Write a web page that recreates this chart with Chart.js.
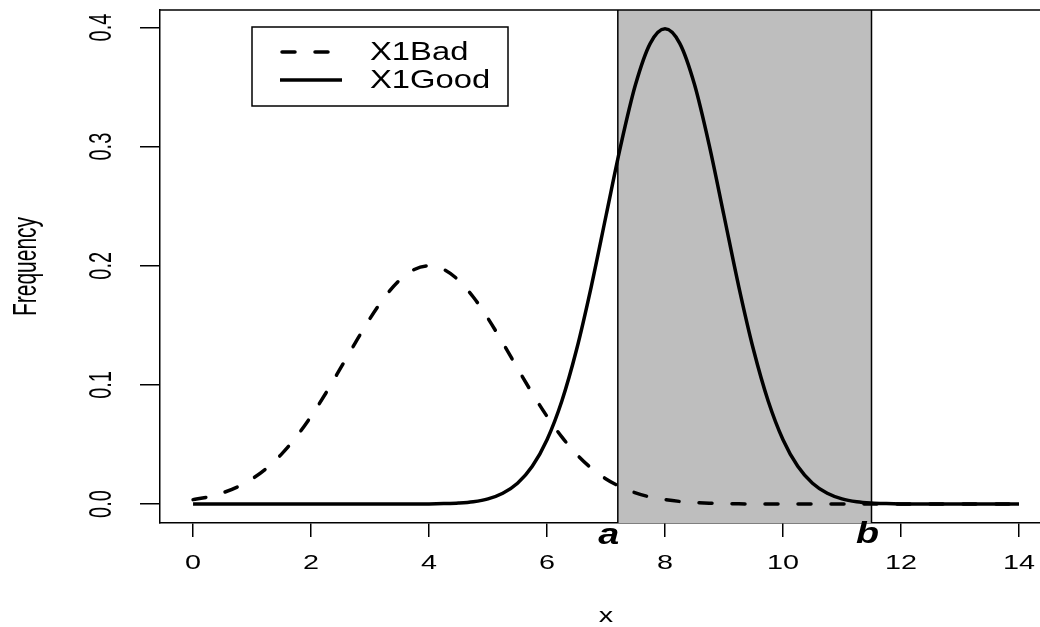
<!DOCTYPE html>
<html>
<head>
<meta charset="utf-8">
<script src="https://cdn.jsdelivr.net/npm/chart.js@4.4.1/dist/chart.umd.min.js"></script>
<style>
  html, body { margin: 0; padding: 0; background: #fff; overflow: hidden; }
  canvas { display: block; }
</style>
</head>
<body>
<canvas id="densityChart" width="1040" height="627"></canvas>
<script>
const xValues = [
    0, 0.25, 0.5, 0.75, 1, 1.25, 1.5, 1.75, 2, 2.25, 2.5, 2.75, 3, 3.25, 3.5, 3.75,
    4, 4.25, 4.5, 4.75, 5, 5.25, 5.5, 5.75, 6, 6.25, 6.5, 6.75, 7, 7.25, 7.5, 7.75,
    8, 8.25, 8.5, 8.75, 9, 9.25, 9.5, 9.75, 10, 10.25, 10.5, 10.75, 11, 11.25, 11.5, 11.75,
    12, 12.25, 12.5, 12.75, 13, 13.25, 13.5, 13.75, 14
];

const x1Bad = [
    0.0037, 0.0059, 0.0094, 0.0143, 0.0211, 0.0302, 0.0419, 0.0564, 0.0736, 0.0930, 0.1140, 0.1353, 0.1558, 0.1738, 0.1879, 0.1969,
    0.2000, 0.1969, 0.1879, 0.1738, 0.1558, 0.1353, 0.1140, 0.0930, 0.0736, 0.0564, 0.0419, 0.0302, 0.0211, 0.0143, 0.0094, 0.0059,
    0.0037, 0.0022, 0.0013, 0.0007, 0.0004, 0.0002, 0.0001, 0.0001, 0, 0, 0, 0, 0, 0, 0, 0,
    0, 0, 0, 0, 0, 0, 0, 0, 0
];

const x1Good = [
    0, 0, 0, 0, 0, 0, 0, 0, 0, 0, 0, 0, 0, 0, 0, 0,
    0.0001, 0.0004, 0.0009, 0.0020, 0.0044, 0.0091, 0.0175, 0.0317, 0.0540, 0.0863, 0.1295, 0.1826, 0.2420, 0.3011, 0.3521, 0.3867,
    0.3989, 0.3867, 0.3521, 0.3011, 0.2420, 0.1826, 0.1295, 0.0863, 0.0540, 0.0317, 0.0175, 0.0091, 0.0044, 0.0020, 0.0009, 0.0004,
    0.0001, 0, 0, 0, 0, 0, 0, 0, 0
];

const xTicks = [0, 2, 4, 6, 8, 10, 12, 14];
const yTicks = [0.0, 0.1, 0.2, 0.3, 0.4];
const yTickLabels = ["0.0", "0.1", "0.2", "0.3", "0.4"];

// the shaded interval between a and b
const aValue = 7.2;
const bValue = 11.5;

const seriesNames = ["X1Bad", "X1Good"];

const FONT = '"Liberation Sans", Arial, Helvetica, sans-serif';
const DASH = [13, 20];

// text that looks a bit stretched, like the original picture
function stretchedText(ctx, text, x, y, size, sx, sy, rotate, weight) {
    ctx.save();
    ctx.translate(x, y);
    if (rotate) ctx.rotate(-Math.PI / 2);
    ctx.scale(sx, sy);
    ctx.font = (weight || "") + " " + size + "px " + FONT;
    ctx.fillStyle = "#000";
    ctx.textAlign = "center";
    ctx.textBaseline = "middle";
    ctx.fillText(text, 0, 0);
    ctx.restore();
}

const intervalPlugin = {
    id: "interval",
    beforeDatasetsDraw(chart) {
        const ctx = chart.ctx;
        const area = chart.chartArea;
        const xs = chart.scales.x;
        const pa = xs.getPixelForValue(aValue);
        const pb = xs.getPixelForValue(bValue);
        ctx.save();
        ctx.fillStyle = "#bebebe";
        ctx.fillRect(pa, area.top, pb - pa, area.bottom - area.top);
        ctx.strokeStyle = "#000";
        ctx.lineWidth = 1.5;
        ctx.beginPath();
        ctx.moveTo(pa, area.top);
        ctx.lineTo(pa, area.bottom);
        ctx.moveTo(pb, area.top);
        ctx.lineTo(pb, area.bottom);
        ctx.stroke();
        ctx.restore();
    }
};

const decorPlugin = {
    id: "decor",
    afterDraw(chart) {
        const ctx = chart.ctx;
        const area = chart.chartArea;
        const xs = chart.scales.x;
        const ys = chart.scales.y;

        // top side of the box
        ctx.save();
        ctx.strokeStyle = "#000";
        ctx.lineWidth = 1.5;
        ctx.beginPath();
        ctx.moveTo(area.left, area.top);
        ctx.lineTo(area.right, area.top);
        ctx.stroke();
        ctx.restore();

        // tick labels
        for (const v of xTicks) {
            stretchedText(ctx, String(v), xs.getPixelForValue(v), 563, 21, 1.37, 1);
        }
        yTicks.forEach((v, i) => {
            stretchedText(ctx, yTickLabels[i], 102, ys.getPixelForValue(v), 20, 1, 1.6, true);
        });

        // axis titles
        stretchedText(ctx, "x", (area.left + 1052) / 2, 616, 21, 1.37, 1);
        stretchedText(ctx, "Frequency", 27, (area.top + area.bottom) / 2, 21, 1, 1.6, true);

        // a and b under the axis
        stretchedText(ctx, "a", xs.getPixelForValue(aValue) - 9, 536, 29, 1.3, 1, false, "italic bold");
        stretchedText(ctx, "b", xs.getPixelForValue(bValue) - 4, 535, 29, 1.3, 1, false, "italic bold");

        // legend box
        ctx.save();
        ctx.strokeStyle = "#000";
        ctx.lineWidth = 1.5;
        ctx.strokeRect(252, 27, 256, 79);
        ctx.lineWidth = 3.5;
        ctx.lineCap = "round";
        ctx.setLineDash(DASH);
        ctx.beginPath();
        ctx.moveTo(282, 52);
        ctx.lineTo(342, 52);
        ctx.stroke();
        ctx.setLineDash([]);
        ctx.lineCap = "butt";
        ctx.beginPath();
        ctx.moveTo(280, 80);
        ctx.lineTo(342, 80);
        ctx.stroke();
        ctx.restore();

        ctx.save();
        ctx.translate(370, 0);
        ctx.scale(1.26, 1);
        ctx.font = "26px " + FONT;
        ctx.fillStyle = "#000";
        ctx.textAlign = "left";
        ctx.textBaseline = "middle";
        ctx.fillText(seriesNames[0], 0, 53);
        ctx.fillText(seriesNames[1], 0, 81);
        ctx.restore();
    }
};

const data = {
    datasets: [
        {
            label: seriesNames[0],
            data: xValues.map((x, i) => ({ x: x, y: x1Bad[i] })),
            borderColor: "#000",
            borderWidth: 3.5,
            borderDash: DASH,
            borderCapStyle: "round",
            pointRadius: 0,
            fill: false,
            cubicInterpolationMode: "monotone"
        },
        {
            label: seriesNames[1],
            data: xValues.map((x, i) => ({ x: x, y: x1Good[i] })),
            borderColor: "#000",
            borderWidth: 3.5,
            borderJoinStyle: "round",
            pointRadius: 0,
            fill: false,
            cubicInterpolationMode: "monotone"
        }
    ]
};

const config = {
    type: "line",
    data: data,
    options: {
        responsive: false,
        animation: false,
        layout: { padding: { top: 10, left: 0, right: 0, bottom: 0 } },
        plugins: {
            legend: { display: false },
            tooltip: { enabled: false }
        },
        scales: {
            x: {
                type: "linear",
                min: -0.56,
                max: 14.356,
                afterBuildTicks: (scale) => { scale.ticks = xTicks.map(v => ({ value: v })); },
                afterFit: (scale) => { scale.height = 104; },
                ticks: { display: false },
                grid: { drawOnChartArea: false, drawTicks: true, tickLength: 14, color: "#000", lineWidth: 1.5 },
                border: { display: true, color: "#000", width: 1.5 }
            },
            y: {
                type: "linear",
                min: -0.0159,
                max: 0.4147,
                afterBuildTicks: (scale) => { scale.ticks = yTicks.map(v => ({ value: v })); },
                afterFit: (scale) => { scale.width = 160; },
                ticks: { display: false },
                grid: { drawOnChartArea: false, drawTicks: true, tickLength: 20, color: "#000", lineWidth: 1.5 },
                border: { display: true, color: "#000", width: 1.5 }
            }
        }
    },
    plugins: [intervalPlugin, decorPlugin]
};

const ctx = document.getElementById("densityChart").getContext("2d");
const chart = new Chart(ctx, config);
</script>
</body>
</html>
